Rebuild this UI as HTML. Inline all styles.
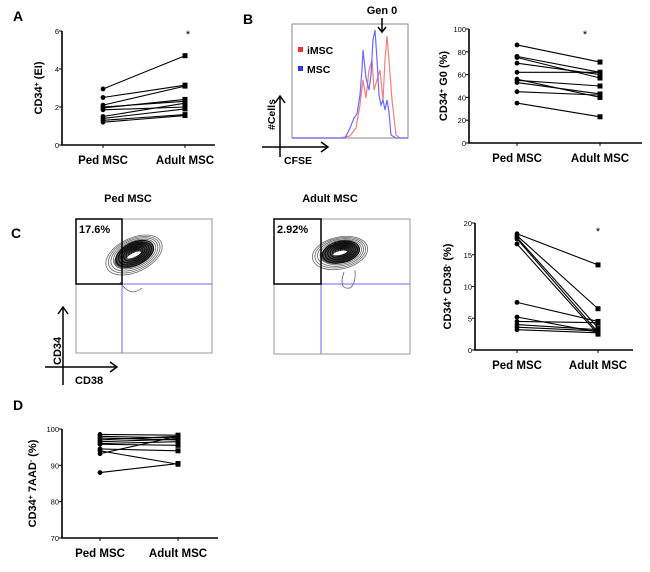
<!DOCTYPE html>
<html><head><meta charset="utf-8"><style>
html,body{margin:0;padding:0;background:#fff;}
svg{display:block;font-family:"Liberation Sans",Arial,sans-serif;}
.t{font-weight:bold;}
</style></head><body>
<svg id="fig" width="650" height="572" viewBox="0 0 650 572">
<text x="13" y="21" font-size="14" class="t">A</text>
<text x="243" y="24" font-size="14" class="t">B</text>
<text x="11" y="238" font-size="14" class="t">C</text>
<text x="13" y="410" font-size="14" class="t">D</text>

<!-- B histogram -->
<g>
<rect x="292" y="24" width="116" height="114" fill="none" stroke="#888" stroke-width="1"/>
<polyline fill="none" stroke="#f08080" stroke-width="1.2"
 points="292,138 340,138 350,136 356,128 360,105 363,80 366,98 369,70 372,60 374,90 377,80 380,70 383,100 385,60 387,36 389,60 392,100 396,135 400,138 408,138"/>
<polyline fill="none" stroke="#6a6aff" stroke-width="1.2"
 points="292,138 345,138 350,128 354,118 357,114 360,95 362,70 363,50 366,78 369,90 371,75 373,40 375,30 377,60 379,95 381,105 383,100 385,110 387,100 389,112 391,135 396,138 408,138"/>
<text x="382" y="14" font-size="11" class="t" text-anchor="middle">Gen 0</text>
<line x1="382" y1="18" x2="382" y2="32" stroke="#000" stroke-width="1.5"/>
<polyline points="378,27 382,32 386,27" fill="none" stroke="#000" stroke-width="1.5"/>
<rect x="298" y="47" width="5" height="5" fill="#e33"/>
<text x="307" y="54" font-size="10.5" class="t">iMSC</text>
<rect x="298" y="66" width="5" height="5" fill="#33e"/>
<text x="307" y="73" font-size="10.5" class="t">MSC</text>
<line x1="280" y1="157" x2="280" y2="97" stroke="#000" stroke-width="1.5"/>
<polyline points="275,103 280,96 285,103" fill="none" stroke="#000" stroke-width="1.5"/>
<line x1="262" y1="147" x2="327" y2="147" stroke="#000" stroke-width="1.5"/>
<polyline points="321,142 328,147 321,152" fill="none" stroke="#000" stroke-width="1.5"/>
<text transform="translate(275,130) rotate(-90)" font-size="10.5" class="t">#Cells</text>
<text x="284" y="164" font-size="10.5" class="t">CFSE</text>
</g>

<!-- C flow plots -->
<g>
<text x="128" y="202" font-size="11" class="t" text-anchor="middle">Ped MSC</text>
<rect x="76" y="219" width="136" height="134" fill="none" stroke="#999"/>
<line x1="122" y1="219" x2="122" y2="353" stroke="#6a6aff"/>
<line x1="76" y1="284" x2="212" y2="284" stroke="#6a6aff"/>
<g id="cp"></g>
<rect x="76" y="219" width="46" height="65" fill="none" stroke="#000" stroke-width="1.5"/>
<text x="79" y="233" font-size="11" class="t">17.6%</text>
</g>
<g>
<text x="330" y="202" font-size="11" class="t" text-anchor="middle">Adult MSC</text>
<rect x="274" y="219" width="136" height="135" fill="none" stroke="#999"/>
<line x1="321" y1="219" x2="321" y2="354" stroke="#6a6aff"/>
<line x1="274" y1="284" x2="410" y2="284" stroke="#6a6aff"/>
<g id="ca"></g>
<rect x="274" y="219" width="47" height="65" fill="none" stroke="#000" stroke-width="1.5"/>
<text x="277" y="233" font-size="11" class="t">2.92%</text>
</g>
<line x1="63" y1="385" x2="63" y2="308" stroke="#000" stroke-width="1.5"/>
<polyline points="58,314 63,307 68,314" fill="none" stroke="#000" stroke-width="1.5"/>
<line x1="45" y1="367" x2="116" y2="367" stroke="#000" stroke-width="1.5"/>
<polyline points="110,362 117,367 110,372" fill="none" stroke="#000" stroke-width="1.5"/>
<text transform="translate(61,365) rotate(-90)" font-size="11" class="t">CD34</text>
<text x="75" y="384" font-size="11" class="t">CD38</text>

<g id="plots"></g>
</svg>
<script>
// Panel A
const aPed=[2.95,2.5,2.1,2.0,1.95,1.85,1.5,1.4,1.3,1.2];
const aAdult=[4.7,3.15,3.1,2.3,2.4,2.0,2.2,1.9,1.6,1.55];
const aTicks=[0,2,4,6];
// Panel B
const bPed=[86,76,75,70,62,56,55,53,45,35];
const bAdult=[71,62,57,60,62,40,50,43,42,23];
const bTicks=[0,20,40,60,80,100];
// Panel C
const cPed=[18.3,18.0,17.7,17.5,16.7,7.5,5.2,4.5,4.0,3.6,3.2];
const cAdult=[13.4,6.5,3.5,2.8,2.5,4.5,2.8,4.3,3.2,3.0,2.7];
const cTicks=[0,5,10,15,20];
// Panel D
const dPed=[98.5,98,97.5,97,96.5,96,95.8,94.5,94,93.2,88];
const dAdult=[98.3,97.5,97,98,97.2,96.5,95.5,94,90.3,98,90.5];
const dTicks=[70,80,90,100];
const cats=["Ped MSC","Adult MSC"];

const NS="http://www.w3.org/2000/svg";
function mk(tag,at,par){const e=document.createElementNS(NS,tag);for(const k in at)e.setAttribute(k,at[k]);par.appendChild(e);return e;}
const root=document.getElementById('plots');

function paired(cfg){
  const g=mk('g',{},root);
  
  
  const y=v=>cfg.y0+(v-cfg.min)/(cfg.max-cfg.min)*(cfg.y1-cfg.y0);
  const ax=mk('path',{d:`M${cfg.ax},${cfg.y1} L${cfg.ax},${cfg.y0} L${cfg.xe},${cfg.y0}`,fill:'none',stroke:'#000','stroke-width':1.6},g);
  
  
  cfg.ticks.forEach(t=>{
    mk('line',{x1:cfg.ax-3,x2:cfg.ax,y1:y(t),y2:y(t),stroke:'#000'},g);
    const tx=mk('text',{x:cfg.ax-3,y:y(t)+3,'font-size':7.5,'text-anchor':'end'},g);
    tx.textContent=t;
    
    
  });
  [cfg.px,cfg.qx].forEach((x,i)=>{
    mk('line',{x1:x,x2:x,y1:cfg.y0,y2:cfg.y0+3,stroke:'#000'},g);
    const tx=mk('text',{x:x,y:cfg.y0+19,'font-size':11.5,'font-weight':'bold','text-anchor':'middle'},g);
    tx.textContent=cats[i];
    
    
  });
  cfg.a.forEach((v,i)=>{
    const w=cfg.b[i];
    const l=mk('line',{x1:cfg.px,y1:y(v),x2:cfg.qx,y2:y(w),stroke:'#000','stroke-width':1.1},g);
    
    
    const c=mk('circle',{cx:cfg.px,cy:y(v),r:2.4,fill:'#000'},g);
    
    
    const s=mk('rect',{x:cfg.qx-2.5,y:y(w)-2.5,width:5,height:5,fill:'#000'},g);
    
    
  });
  const tt=mk('text',{transform:`translate(${cfg.tx},${(cfg.y0+cfg.y1)/2}) rotate(-90)`,'font-size':11,'font-weight':'bold','text-anchor':'middle'},g);
  tt.innerHTML=cfg.title;
  
  
  if(cfg.star){const s=mk('text',{x:cfg.star[0],y:cfg.star[1],'font-size':11,'text-anchor':'middle'},g);s.textContent='*';
    
    }
}
paired({name:'panel-a-chart',a:aPed,b:aAdult,ticks:aTicks,min:0,max:6,y0:145,y1:31,ax:62,xe:215,px:103,qx:185,tx:42,
 title:'CD34<tspan baseline-shift="super" font-size="7">+</tspan> (EI)',star:[188,38]});
paired({name:'panel-b-chart',a:bPed,b:bAdult,ticks:bTicks,min:0,max:100,y0:143,y1:29,ax:469,xe:642,px:517,qx:600,tx:447,
 title:'CD34<tspan baseline-shift="super" font-size="7">+</tspan> G0 (%)',star:[585,38]});
paired({name:'panel-c-chart',a:cPed,b:cAdult,ticks:cTicks,min:0,max:20,y0:350,y1:223,ax:475,xe:633,px:517,qx:598,tx:451,
 title:'CD34<tspan baseline-shift="super" font-size="7">+</tspan> CD38<tspan baseline-shift="super" font-size="7">-</tspan> (%)',star:[598,235]});
paired({name:'panel-d-chart',a:dPed,b:dAdult,ticks:dTicks,min:70,max:100,y0:538,y1:429,ax:62,xe:218,px:100,qx:178,tx:36,
 title:'CD34<tspan baseline-shift="super" font-size="7">+</tspan> 7AAD<tspan baseline-shift="super" font-size="7">-</tspan> (%)'});

function contours(id,cx,cy,n,rx,ry,rot){
  const g=document.getElementById(id);
  mk('ellipse',{cx:cx,cy:cy,rx:rx*0.7,ry:ry*0.65,fill:'#555',transform:`rotate(${rot} ${cx} ${cy})`},g);
  for(let i=0;i<n;i++){
    const f=1-i/n;
    const e=mk('ellipse',{cx:cx+i*0.3,cy:cy-i*0.2,rx:rx*f,ry:ry*f,fill:'none',stroke:i>n*0.3?'#111':'#666','stroke-width':i>n*0.3?1.3:0.8,transform:`rotate(${rot} ${cx} ${cy})`},g);
    
    
  }
  mk('ellipse',{cx:cx,cy:cy,rx:rx*0.25,ry:ry*0.12,fill:'#fff',transform:`rotate(${rot} ${cx} ${cy})`},g);
}
contours('cp',134,255,12,30,17,-25);
contours('ca',340,253,12,28,16,-12);
mk('path',{d:'M120,282 Q130,298 142,288',fill:'none',stroke:'#666','stroke-width':0.8},document.getElementById('cp'));
mk('path',{d:'M344,272 Q338,290 350,288 Q356,284 355,270',fill:'none',stroke:'#666','stroke-width':0.8},document.getElementById('ca'));
</script>
</body></html>
